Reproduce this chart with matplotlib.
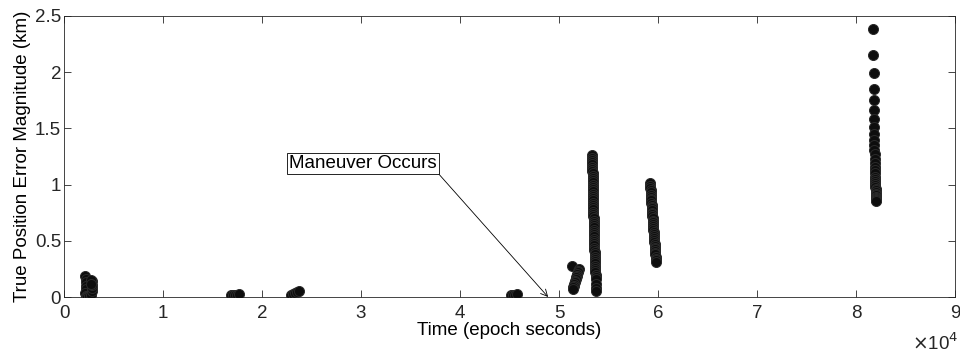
import matplotlib
matplotlib.use("Agg")
import matplotlib.pyplot as plt
from matplotlib.ticker import FixedLocator

plt.rcParams['font.family'] = ['Liberation Sans', 'DejaVu Sans']

# Cluster data (time in epoch seconds, error in km)
t1 = [2150, 2200, 2250, 2250, 2200, 2150, 2200, 2250, 2300, 2500, 2700, 2800, 2850, 2850, 2800, 2750, 2700]
e1 = [0.19, 0.16, 0.13, 0.10, 0.07, 0.04, 0.01, 0.00, 0.00, 0.01, 0.02, 0.05, 0.08, 0.11, 0.14, 0.15, 0.12]

t2 = [16900, 17100, 17300, 17500, 17700]
e2 = [0.02, 0.015, 0.02, 0.02, 0.025]

t3 = [22900, 23100, 23300, 23500, 23700]
e3 = [0.02, 0.03, 0.035, 0.045, 0.05]

t4 = [45200, 45400, 45600, 45800]
e4 = [0.02, 0.02, 0.02, 0.025]

t5 = [51300, 52000, 51950, 51900, 51850, 51800, 51750, 51700, 51650, 51600, 51550, 51500, 51450, 51400]
e5 = [0.28, 0.25, 0.235, 0.22, 0.205, 0.19, 0.175, 0.16, 0.145, 0.13, 0.115, 0.10, 0.085, 0.07]

t6 = [53350, 53350, 53355, 53360, 53365, 53370, 53375, 53380, 53385, 53390,
      53395, 53400, 53405, 53410, 53415, 53420, 53425, 53430, 53435, 53440,
      53445, 53450, 53455, 53460, 53465, 53470, 53475, 53480, 53485, 53490,
      53495, 53500, 53505, 53510, 53515, 53520, 53525, 53530, 53540, 53550,
      53560, 53570, 53580, 53590, 53600, 53610, 53620, 53630, 53640, 53650,
      53660, 53670, 53680, 53690, 53700, 53710, 53720, 53730, 53740]
e6 = [1.26, 1.24, 1.22, 1.20, 1.18, 1.16, 1.14, 1.12, 1.10, 1.08,
      1.06, 1.04, 1.02, 1.00, 0.98, 0.96, 0.94, 0.92, 0.90, 0.88,
      0.86, 0.84, 0.82, 0.80, 0.78, 0.76, 0.74, 0.72, 0.70, 0.68,
      0.66, 0.64, 0.62, 0.60, 0.58, 0.56, 0.54, 0.52, 0.50, 0.48,
      0.46, 0.44, 0.42, 0.40, 0.38, 0.36, 0.34, 0.32, 0.30, 0.28,
      0.26, 0.24, 0.22, 0.20, 0.18, 0.16, 0.12, 0.08, 0.05]

t7 = [59200, 59215, 59230, 59245, 59260, 59275, 59290, 59305, 59320, 59335,
      59350, 59365, 59380, 59395, 59410, 59425, 59440, 59455, 59470, 59485,
      59500, 59515, 59530, 59545, 59560, 59575, 59590, 59605, 59620, 59635,
      59650, 59665, 59680, 59695, 59710, 59725, 59740, 59755, 59770, 59785,
      59800]
e7 = [1.01, 0.99, 0.97, 0.95, 0.93, 0.91, 0.89, 0.875, 0.86, 0.84,
      0.82, 0.805, 0.79, 0.77, 0.75, 0.735, 0.72, 0.70, 0.68, 0.665,
      0.65, 0.63, 0.61, 0.595, 0.58, 0.56, 0.54, 0.525, 0.51, 0.49,
      0.47, 0.455, 0.44, 0.425, 0.41, 0.395, 0.38, 0.36, 0.34, 0.325,
      0.31]

t8 = [81750, 81760, 81770, 81780, 81790, 81800, 81810, 81820, 81830, 81840,
      81850, 81860, 81870, 81880, 81890, 81900, 81910, 81920, 81930, 81940,
      81950, 81955, 81960, 81965, 81970, 81975, 81980, 81985, 81990, 81995,
      82000, 82005, 82010, 82015, 82020]
e8 = [2.38, 2.15, 1.99, 1.85, 1.75, 1.66, 1.58, 1.51, 1.45, 1.40,
      1.35, 1.31, 1.27, 1.23, 1.19, 1.16, 1.13, 1.10, 1.07, 1.05,
      1.03, 1.01, 0.995, 0.98, 0.965, 0.95, 0.935, 0.92, 0.905, 0.89,
      0.88, 0.87, 0.865, 0.86, 0.855]

x_ticks = [0, 1, 2, 3, 4, 5, 6, 7, 8, 9]
y_ticks = [0, 0.5, 1, 1.5, 2, 2.5]
y_tick_labels = ['0', '0.5', '1', '1.5', '2', '2.5']

fig = plt.figure(figsize=(9.6, 3.52), dpi=100)
ax = fig.add_axes([64/960, 1-297/352, (955-64)/960, (297-16)/352])

gray = '#262626'
for t, e in [(t1, e1), (t2, e2), (t3, e3), (t4, e4), (t5, e5), (t6, e6), (t7, e7), (t8, e8)]:
    ax.scatter(t, e, s=52, facecolor='#0d0d0d', edgecolor='#2a2a2a', linewidths=0.7, zorder=3)

ax.set_xlim(0, 90000)
ax.set_ylim(0, 2.5)
ax.xaxis.set_major_locator(FixedLocator([v * 1e4 for v in x_ticks]))
ax.set_xticklabels([str(v) for v in x_ticks])
ax.yaxis.set_major_locator(FixedLocator(y_ticks))
ax.set_yticklabels(y_tick_labels)
ax.tick_params(axis='both', direction='in', length=5, width=0.6, color=gray, labelsize=13.5,
               top=True, right=True, labelcolor='#262626')
ax.tick_params(axis='x', pad=6)
ax.tick_params(axis='y', pad=2)
for sp in ax.spines.values():
    sp.set_color(gray)
    sp.set_linewidth(0.6)

ax.set_xlabel('Time (epoch seconds)', fontsize=13.5, labelpad=0)
ax.set_ylabel('True Position Error Magnitude (km)', fontsize=13.5, labelpad=3)

fig.text(912/960, 1-343/352, r'$\times$10$^{4}$', fontsize=13.5, va='center', ha='left',
         color='#262626')

# Annotation (MATLAB-like textarrow)
fig.text(437/960, 1-172/352, 'Maneuver Occurs', ha='right', va='bottom', fontsize=13.5,
         bbox=dict(boxstyle='square,pad=0.12', fc='white', ec='black', lw=0.6))
ax.annotate('', xy=(48900, 0.0), xycoords='data',
            xytext=(437/960, 1-172/352), textcoords='figure fraction',
            arrowprops=dict(arrowstyle='->', lw=0.6, color='black',
                            shrinkA=0, shrinkB=0, mutation_scale=12))

fig.savefig('out.png', dpi=100)
